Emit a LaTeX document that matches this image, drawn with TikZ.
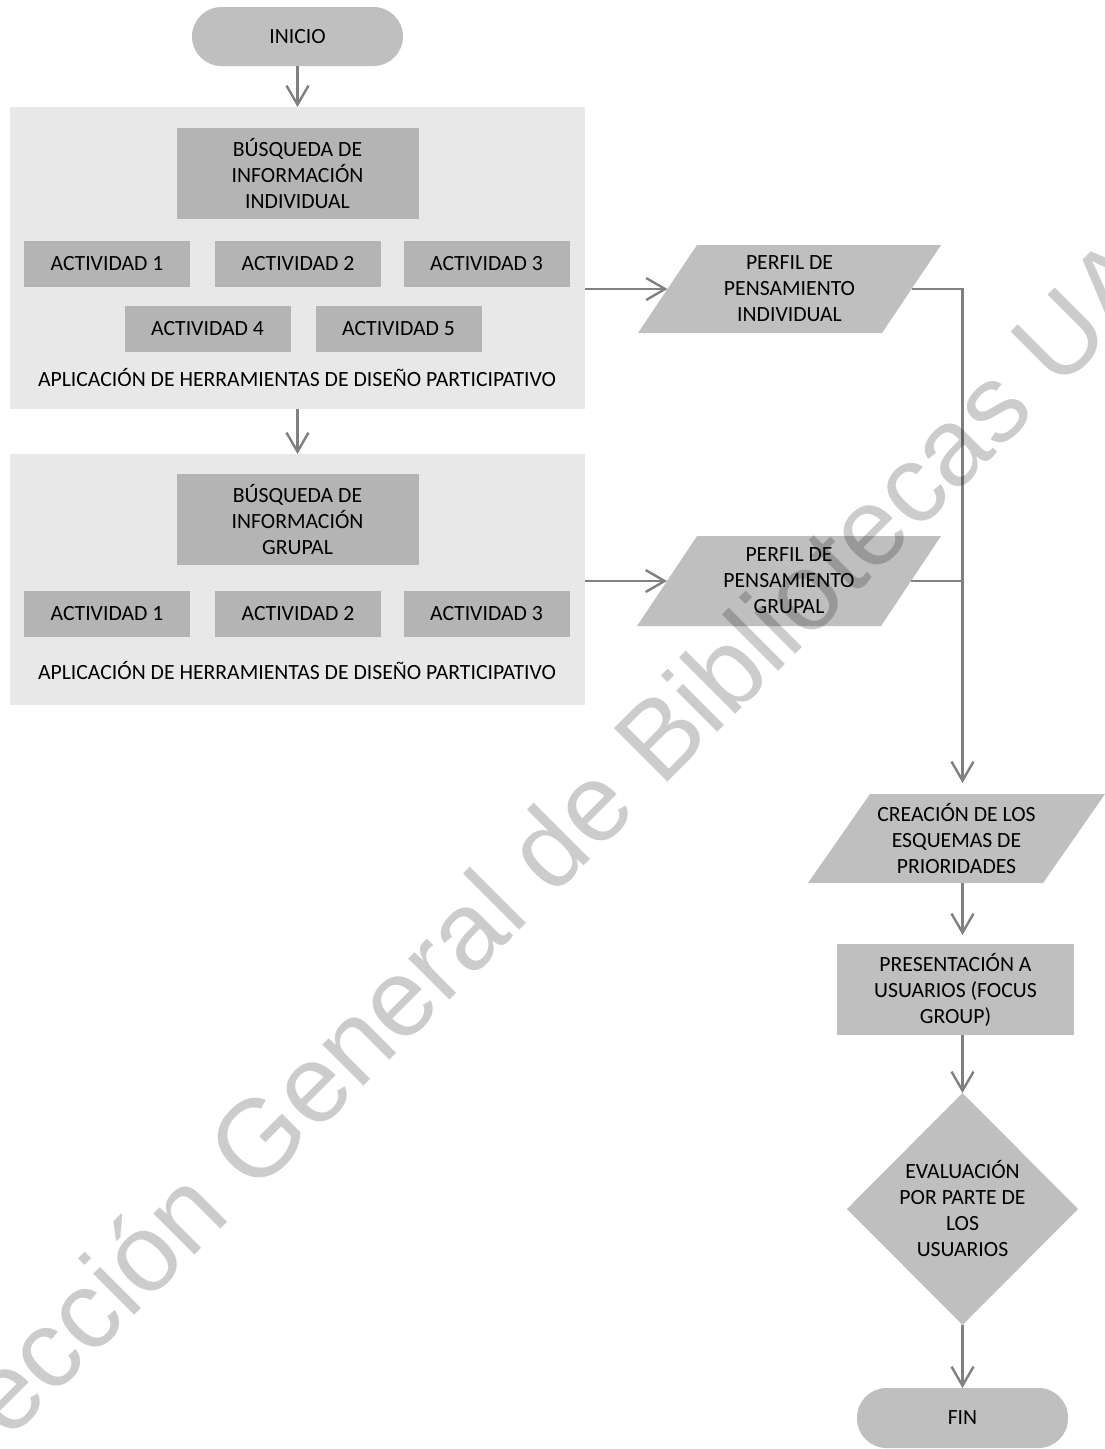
\documentclass[tikz,border=0pt]{standalone}
\usepackage{fontspec}
\setmainfont{Carlito}
\newfontfamily\wmfont{Liberation Sans}
\usetikzlibrary{shapes.geometric,arrows.meta}
\definecolor{contgray}{HTML}{E8E8E8}
\definecolor{darkbox}{HTML}{B4B4B4}
\definecolor{shapegray}{HTML}{BFBFBF}
\definecolor{conn}{HTML}{808080}
\begin{document}
\begin{tikzpicture}[x=1pt,y=-1pt,
  every node/.style={font=\fontsize{21.7}{26}\selectfont, align=center, inner sep=0pt, outer sep=0pt, text=black},
  container/.style={fill=contgray, minimum width=575pt},
  inbox/.style={fill=darkbox, minimum width=242pt, minimum height=91pt},
  actbox/.style={fill=darkbox, minimum width=166pt, minimum height=46pt},
  terminal/.style={fill=shapegray, rounded corners=29.5pt, minimum width=211pt, minimum height=59pt},
  iotext/.style={minimum width=180pt, minimum height=88pt},
  procbox/.style={fill=shapegray, minimum width=237pt, minimum height=91pt},
  decision/.style={diamond, fill=shapegray, minimum width=231pt, minimum height=232pt},
  conline/.style={draw=conn, line width=2.4pt},
  arr/.style={conline, -{Straight Barb[length=19pt,width=22pt]}}
]
\useasboundingbox (0,0) rectangle (1104,1449);
\fill[white] (0,0) rectangle (1104,1449);

% start
\node[terminal] (ini) at (297.5,36.5) {INICIO};

% container 1
\node[container, minimum height=302pt] (c1) at (297.5,258) {};
\node[inbox] (b1) at (297.5,173.5) {BÚSQUEDA DE\\INFORMACIÓN\\INDIVIDUAL};
\node[actbox] (a11) at (107,264) {ACTIVIDAD 1};
\node[actbox] (a12) at (298,264) {ACTIVIDAD 2};
\node[actbox] (a13) at (486.5,264) {ACTIVIDAD 3};
\node[actbox] (a14) at (207.5,329) {ACTIVIDAD 4};
\node[actbox] (a15) at (398.5,329) {ACTIVIDAD 5};
\node (ap1) at (297,378) {APLICACIÓN DE HERRAMIENTAS DE DISEÑO PARTICIPATIVO};

% container 2
\node[container, minimum height=251pt] (c2) at (297.5,579.5) {};
\node[inbox] (b2) at (297.5,519.5) {BÚSQUEDA DE\\INFORMACIÓN\\GRUPAL};
\node[actbox] (a21) at (107,614) {ACTIVIDAD 1};
\node[actbox] (a22) at (298,614) {ACTIVIDAD 2};
\node[actbox] (a23) at (486.5,614) {ACTIVIDAD 3};
\node (ap2) at (297,671) {APLICACIÓN DE HERRAMIENTAS DE DISEÑO PARTICIPATIVO};

% parallelograms (data shapes)
\fill[shapegray] (697,245) -- (941,245) -- (882,333) -- (638,333) -- cycle;
\fill[shapegray] (697,536) -- (941,536) -- (881,626) -- (637,626) -- cycle;
\fill[shapegray] (870,794) -- (1105,794) -- (1043,883) -- (808,883) -- cycle;
\node[iotext] (p1) at (789.5,289) {PERFIL DE\\PENSAMIENTO\\INDIVIDUAL};
\node[iotext] (p2) at (789,581) {PERFIL DE\\PENSAMIENTO\\GRUPAL};
\node[iotext, minimum height=89pt] (cr) at (956.5,838.5) {CREACIÓN DE LOS\\ESQUEMAS DE\\PRIORIDADES};
\coordinate (p1w) at (667.5,289);
\coordinate (p1e) at (911.5,289);
\coordinate (p2w) at (667,581);
\coordinate (p2e) at (911,581);

\node[procbox] (pr) at (955.5,989.5) {PRESENTACIÓN A\\USUARIOS (FOCUS\\GROUP)};
\node[decision] (di) at (962.5,1209) {EVALUACIÓN\\POR PARTE DE\\LOS\\USUARIOS};
\node[terminal, minimum height=60pt] (fin) at (962.5,1418) {FIN};

\coordinate (j1) at (962.5,289);

% connectors
\draw[arr] (ini) -- (c1);
\draw[arr] (c1) -- (c2);
\draw[arr] (c1.east |- p1w) -- (p1w);
\draw[arr] (c2.east |- p2w) -- (p2w);
\draw[arr, shorten >=11pt] (p1e) -- (j1) -- (j1 |- cr.north);
\draw[conline] (p2e) -- (j1 |- p2e);
\draw[arr, shorten >=9pt] (j1 |- cr.south) -- (j1 |- pr.north);
\draw[arr] (j1 |- pr.south) -- (di);
\draw[arr] (di) -- (fin);

% watermark
\begin{scope}
\clip (0,0) rectangle (1104,1449);
\node[rotate=45, anchor=base west, font=\wmfont\fontsize{110}{110}\selectfont, text=black, text opacity=0.2] (wm) at (-91,1541) {Dirección General de Bibliotecas UAQ};
\end{scope}
\end{tikzpicture}
\end{document}
